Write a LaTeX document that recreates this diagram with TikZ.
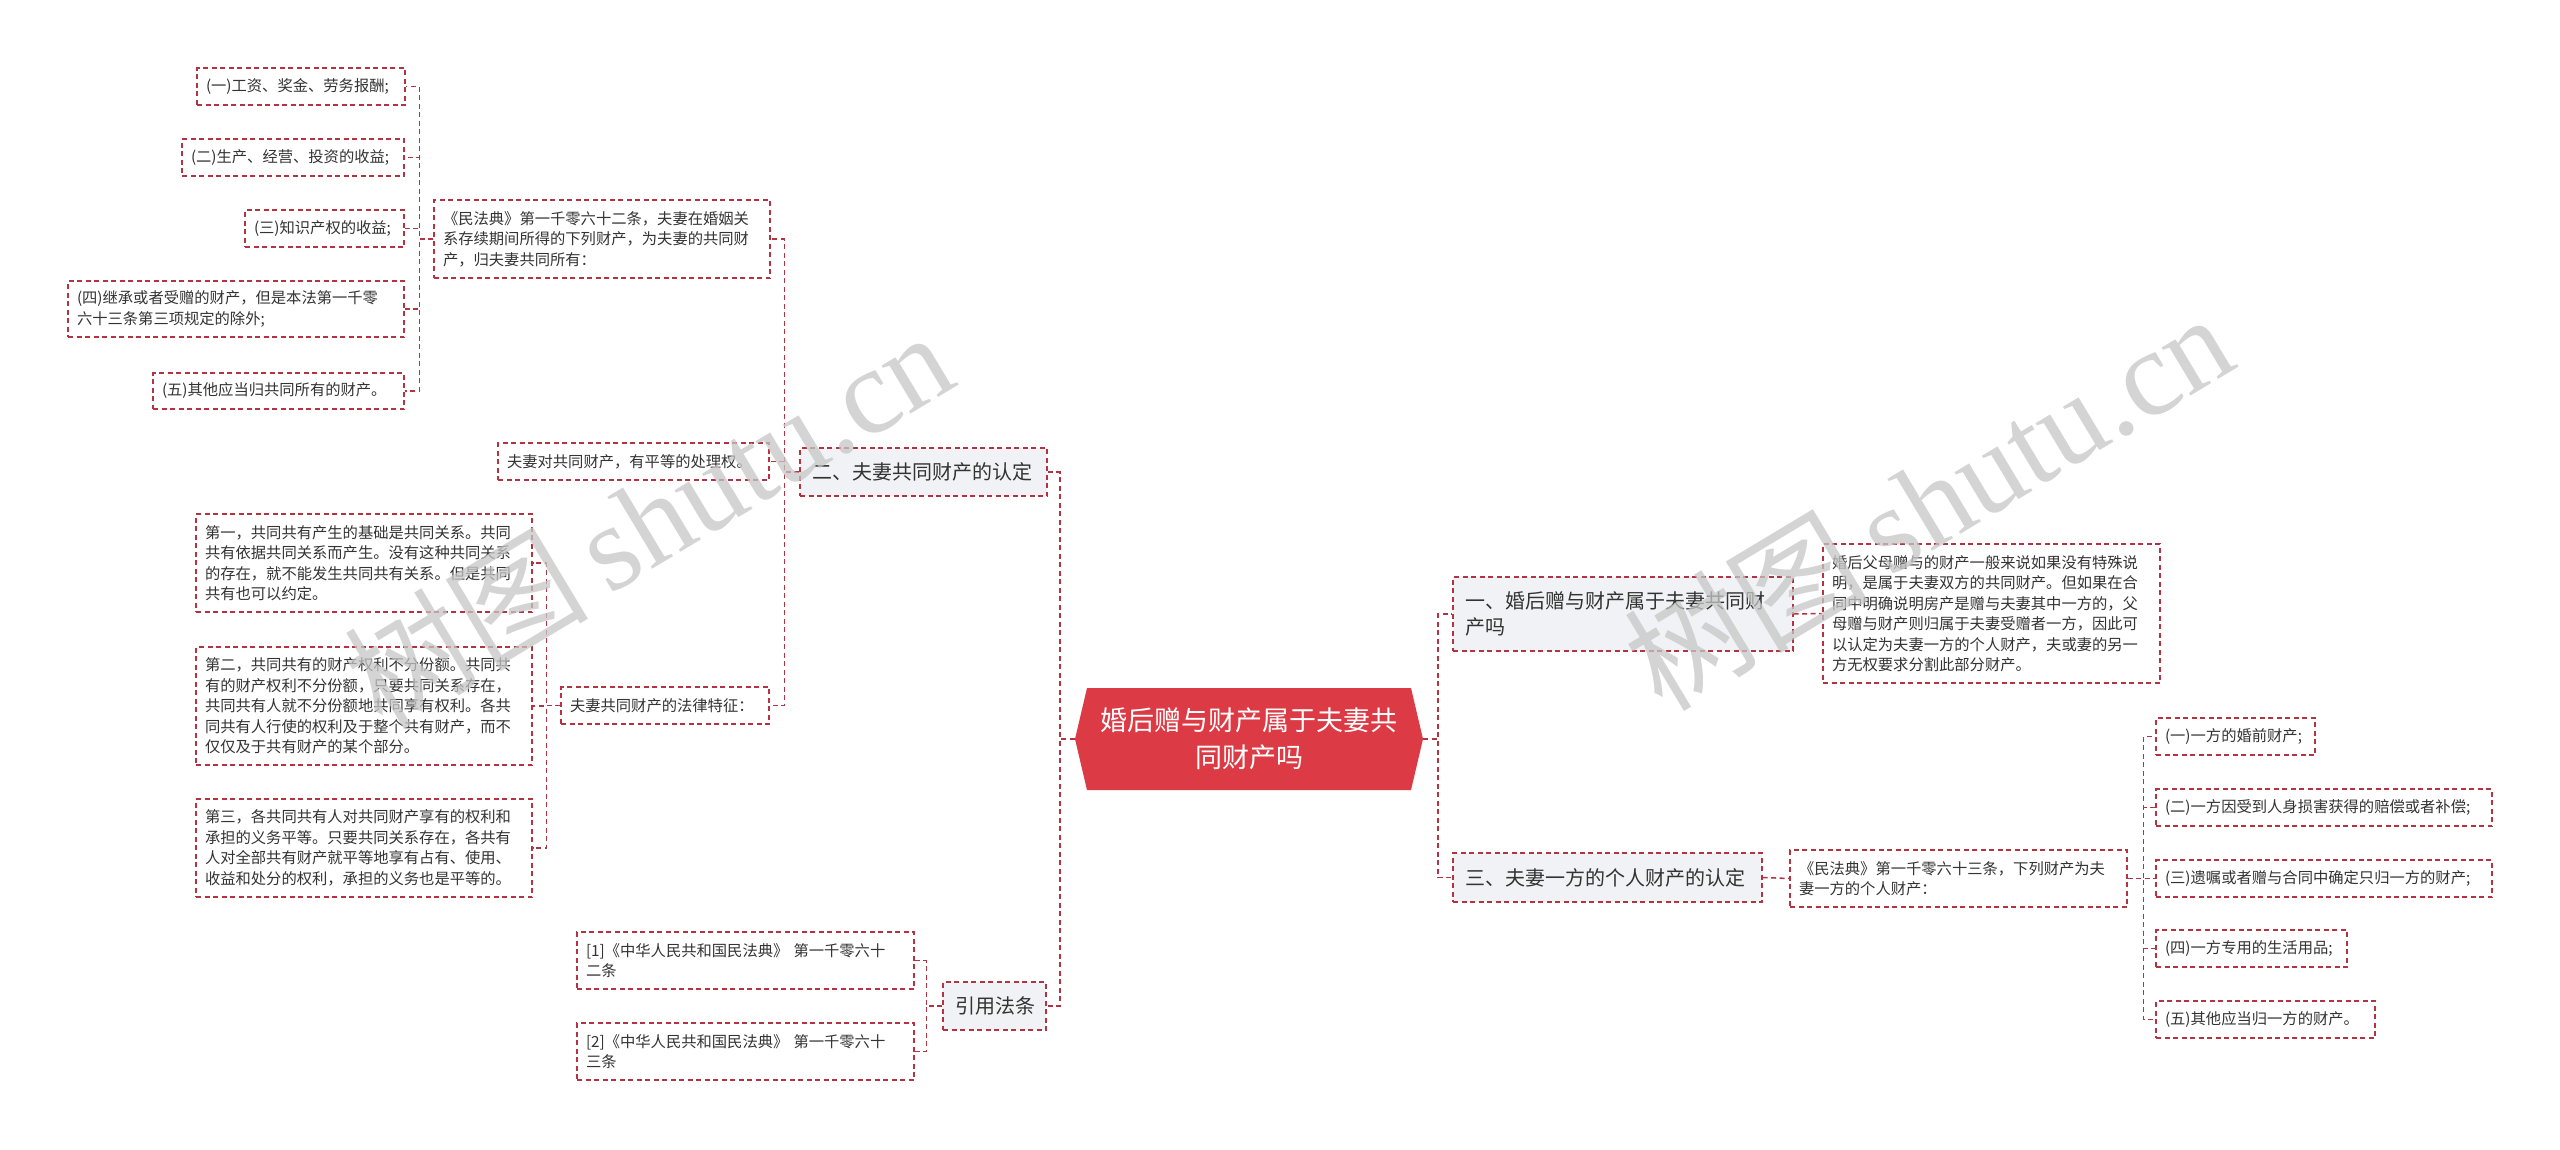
\documentclass[tikz,border=0pt]{standalone}
\usepackage{fontspec}
\newfontfamily\cjk{Noto Sans CJK SC}
\newfontfamily\wmserif{Liberation Serif}
\usetikzlibrary{calc}
\definecolor{linecol}{RGB}{178,52,66}
\definecolor{boxfill}{HTML}{F0F2F5}
\definecolor{rootfill}{HTML}{DC3B45}
\definecolor{txt}{HTML}{333333}
\definecolor{wm}{RGB}{198,198,198}
\tikzset{
  leaf/.style={draw=linecol, line width=1.2pt, dash pattern=on 5pt off 3.5pt, fill=white, text=txt,
    inner xsep=9pt, inner ysep=0pt, align=left, anchor=center,
    font=\cjk\fontsize{15.3}{20.5}\selectfont},
  topic/.style={leaf, fill=boxfill, inner xsep=12pt, font=\cjk\fontsize{20}{26.5}\selectfont},
  conn/.style={draw=linecol, line width=1.5pt, dash pattern=on 5pt off 3.5pt},
  wmark/.style={text=wm, opacity=0.75, rotate=31, inner sep=0pt},
}
\begin{document}
\begin{tikzpicture}[x=1pt,y=-1pt]
\useasboundingbox (0,0) rectangle (2560,1149);
\fill[white] (0,0) rectangle (2560,1149);

% left far leaves
\node[leaf, text width=190pt, minimum height=37pt] (a1) at (301,86.5) {(一)工资、奖金、劳务报酬;};
\node[leaf, text width=204pt, minimum height=37pt] (a2) at (293,157.5) {(二)生产、经营、投资的收益;};
\node[leaf, text width=141pt, minimum height=37pt] (a3) at (324.5,228.5) {(三)知识产权的收益;};
\node[leaf, text width=318pt, minimum height=56pt] (a4) at (236,309) {(四)继承或者受赠的财产，但是本法第一千零\\六十三条第三项规定的除外;};
\node[leaf, text width=233pt, minimum height=36pt] (a5) at (278.5,391) {(五)其他应当归共同所有的财产。};

\node[leaf, text width=318pt, minimum height=78pt] (b1) at (602,239) {《民法典》第一千零六十二条，夫妻在婚姻关\\系存续期间所得的下列财产，为夫妻的共同财\\产，归夫妻共同所有：};
\node[leaf, text width=253pt, minimum height=37pt] (b2) at (633.5,461.5) {夫妻对共同财产，有平等的处理权。};
\node[leaf, text width=190pt, minimum height=37pt] (b3) at (665,705.5) {夫妻共同财产的法律特征：};

\node[leaf, text width=318pt, minimum height=98pt] (c1) at (364,563) {第一，共同共有产生的基础是共同关系。共同\\共有依据共同关系而产生。没有这种共同关系\\的存在，就不能发生共同共有关系。但是共同\\共有也可以约定。};
\node[leaf, text width=318pt, minimum height=118pt] (c2) at (364,706) {第二，共同共有的财产权利不分份额。共同共\\有的财产权利不分份额，只要共同关系存在，\\共同共有人就不分份额地共同享有权利。各共\\同共有人行使的权利及于整个共有财产，而不\\仅仅及于共有财产的某个部分。};
\node[leaf, text width=318pt, minimum height=98pt] (c3) at (364,848) {第三，各共同共有人对共同财产享有的权利和\\承担的义务平等。只要共同关系存在，各共有\\人对全部共有财产就平等地享有占有、使用、\\收益和处分的权利，承担的义务也是平等的。};

\node[topic, text width=223pt, minimum height=48pt] (l2) at (923.5,472) {二、夫妻共同财产的认定};

\node[leaf, text width=319pt, minimum height=57pt] (d1) at (745.5,960.5) {[1]《中华人民共和国民法典》 第一千零六十\\二条};
\node[leaf, text width=319pt, minimum height=57pt] (d2) at (745.5,1051.5) {[2]《中华人民共和国民法典》 第一千零六十\\三条};
\node[topic, text width=79pt, minimum height=48pt] (l4) at (994.5,1006) {引用法条};

% root
\fill[rootfill] (1075,739) -- (1087,688) -- (1411,688) -- (1423,739) -- (1411,790) -- (1087,790) -- cycle;
\node[minimum width=348pt, minimum height=102pt, inner sep=0pt, text=white, align=center,
  font=\cjk\fontsize{27}{37}\selectfont] (root) at (1249,739) {婚后赠与财产属于夫妻共\\同财产吗};

% right side
\node[topic, text width=316pt, minimum height=74pt] (l1) at (1623,614) {一、婚后赠与财产属于夫妻共同财\\产吗};
\node[topic, text width=285pt, minimum height=49pt] (l3) at (1607.5,877.5) {三、夫妻一方的个人财产的认定};
\node[leaf, text width=319pt, minimum height=139pt] (e1) at (1991.5,613.5) {婚后父母赠与的财产一般来说如果没有特殊说\\明，是属于夫妻双方的共同财产。但如果在合\\同中明确说明房产是赠与夫妻其中一方的，父\\母赠与财产则归属于夫妻受赠者一方，因此可\\以认定为夫妻一方的个人财产，夫或妻的另一\\方无权要求分割此部分财产。};
\node[leaf, text width=319pt, minimum height=57pt] (f0) at (1958.5,878.5) {《民法典》第一千零六十三条，下列财产为夫\\妻一方的个人财产：};
\node[leaf, text width=141pt, minimum height=37pt] (g1) at (2235.5,736.5) {(一)一方的婚前财产;};
\node[leaf, text width=318pt, minimum height=37pt] (g2) at (2324,807.5) {(二)一方因受到人身损害获得的赔偿或者补偿;};
\node[leaf, text width=318pt, minimum height=37pt] (g3) at (2324,878.5) {(三)遗嘱或者赠与合同中确定只归一方的财产;};
\node[leaf, text width=173pt, minimum height=37pt] (g4) at (2251.5,948.5) {(四)一方专用的生活用品;};
\node[leaf, text width=201pt, minimum height=37pt] (g5) at (2265.5,1019.5) {(五)其他应当归一方的财产。};

% connectors
\foreach \c in {a1,a2,a3,a4,a5} \draw[conn] (b1.west) -- ++(-14,0) |- (\c.east);
\foreach \c in {b1,b2,b3} \draw[conn] (l2.west) -- ++(-15,0) |- (\c.east);
\foreach \c in {c1,c2,c3} \draw[conn] (b3.west) -- ++(-14,0) |- (\c.east);
\foreach \c in {l2,l4} \draw[conn] (root.west) -- ++(-15,0) |- (\c.east);
\foreach \c in {d1,d2} \draw[conn] (l4.west) -- ++(-16,0) |- (\c.east);
\foreach \c in {l1,l3} \draw[conn] (root.east) -- ++(15,0) |- (\c.west);
\draw[conn] (l1.east) -- (e1.west);
\draw[conn] (l3.east) -- (f0.west);
\foreach \c in {g1,g2,g3,g4,g5} \draw[conn] (f0.east) -- ++(16,0) |- (\c.west);

% watermarks
\node[wmark] (wm1) at (648,518) {\cjk\fontsize{122}{122}\selectfont 树图\,\wmserif shutu.cn};
\node[wmark] (wm2) at (1928,500) {\cjk\fontsize{122}{122}\selectfont 树图\,\wmserif shutu.cn};
\end{tikzpicture}
\end{document}
